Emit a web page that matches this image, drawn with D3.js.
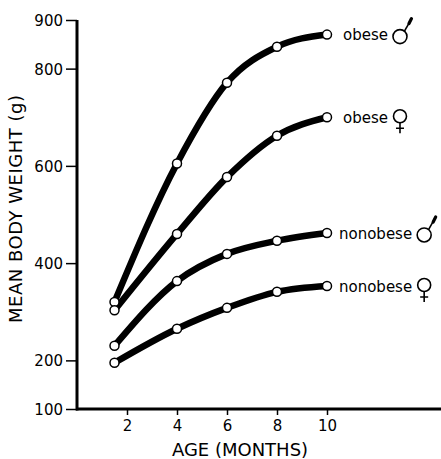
<!DOCTYPE html>
<html>
<head>
<meta charset="utf-8">
<script src="https://cdn.jsdelivr.net/npm/d3@7"></script>
<style>
  body { margin: 0; background: white; }
  text { font-family: "DejaVu Sans", sans-serif; fill: black; }
</style>
</head>
<body>
<svg width="441" height="459"></svg>
<script>
var ages = [1.5, 4, 6, 8, 10];
var obeseMale = [320, 605, 771, 845, 870];
var obeseFemale = [303, 460, 577, 662, 700];
var nonobeseMale = [230, 363, 419, 446, 462];
var nonobeseFemale = [195, 265, 308, 341, 353];
var seriesNames = ["obese", "obese", "nonobese", "nonobese"];
var seriesSex = ["male", "female", "male", "female"];
var xTicks = [2, 4, 6, 8, 10];
var yTicks = [100, 200, 400, 600, 800, 900];

var allSeries = [obeseMale, obeseFemale, nonobeseMale, nonobeseFemale];

var svg = d3.select("svg");

var x = d3.scaleLinear().domain([0, 14.56]).range([77, 441]);
var y = d3.scaleLinear().domain([100, 900]).range([409, 20]);

// axes
var yAxis = d3.axisLeft(y).tickValues(yTicks).tickSize(11).tickPadding(3);
var gy = svg.append("g").attr("transform", "translate(77,0)").call(yAxis);
gy.select(".domain").attr("d", "M0," + y(900) + "V" + (y(100) + 1.5)).attr("stroke-width", 3);
gy.selectAll(".tick line").attr("stroke-width", 1.5);
gy.selectAll(".tick text").style("font-size", "15px").attr("dy", "0.36em");

var xAxis = d3.axisBottom(x).tickValues(xTicks).tickSize(6).tickPadding(5);
var gx = svg.append("g").attr("transform", "translate(0,409)").call(xAxis);
gx.select(".domain").attr("d", "M76,0H441").attr("stroke-width", 3);
gx.selectAll(".tick line").attr("stroke-width", 1.5);
gx.selectAll(".tick text").style("font-size", "15px");

svg.append("text")
  .attr("x", 240).attr("y", 456)
  .attr("text-anchor", "middle")
  .style("font-size", "18px")
  .text("AGE (MONTHS)");

svg.append("text")
  .attr("transform", "translate(22,209) rotate(-90)")
  .attr("text-anchor", "middle")
  .attr("textLength", 228)
  .attr("lengthAdjust", "spacing")
  .style("font-size", "18px")
  .text("MEAN  BODY  WEIGHT (g)");

// lines
var line = d3.line()
  .x(function(d, i) { return x(ages[i]); })
  .y(function(d) { return y(d); })
  .curve(d3.curveMonotoneX);

svg.selectAll(".series")
    .data(allSeries)
  .enter().append("path")
    .attr("class", "series")
    .attr("d", line)
    .style("fill", "none")
    .style("stroke", "black")
    .style("stroke-width", 6.5)
    .style("stroke-linecap", "round");

allSeries.forEach(function(s) {
  svg.selectAll(null)
      .data(s)
    .enter().append("circle")
      .attr("cx", function(d, i) { return x(ages[i]); })
      .attr("cy", function(d) { return y(d); })
      .attr("r", 4.5)
      .style("fill", "white")
      .style("stroke", "black")
      .style("stroke-width", 1.5);
});

// labels with sex symbols
allSeries.forEach(function(s, k) {
  var lx = x(ages[ages.length - 1]) + (seriesNames[k] == "obese" ? 16 : 12);
  var ly = y(s[s.length - 1]) + 1;
  var t = svg.append("text")
    .attr("x", lx).attr("y", ly)
    .attr("dy", "0.32em")
    .style("font-size", "15px")
    .text(seriesNames[k]);
  var w = t.node().getComputedTextLength();
  var cx = lx + w + 12, cy = ly;
  var g = svg.append("g").style("stroke", "black").style("fill", "none");
  if (seriesSex[k] == "male") {
    cy = ly + 1;
    g.append("circle").attr("cx", cx).attr("cy", cy).attr("r", 7).style("stroke-width", 1.6);
    g.append("path")
      .attr("d", "M" + (cx + 4.5) + "," + (cy - 5.5) + "L" + (cx + 11) + "," + (cy - 17))
      .style("stroke-width", 1.6);
    g.append("path")
      .attr("d", "M" + (cx + 9) + "," + (cy - 13) + "L" + (cx + 11.5) + "," + (cy - 18))
      .style("stroke-width", 3.2).style("stroke-linecap", "round");
  } else {
    cy = ly - 2;
    g.append("circle").attr("cx", cx).attr("cy", cy).attr("r", 6.5).style("stroke-width", 1.6);
    g.append("path")
      .attr("d", "M" + cx + "," + (cy + 6.5) + "V" + (cy + 17) +
                 "M" + (cx - 4) + "," + (cy + 12) + "H" + (cx + 4))
      .style("stroke-width", 1.6);
  }
});
</script>
</body>
</html>
